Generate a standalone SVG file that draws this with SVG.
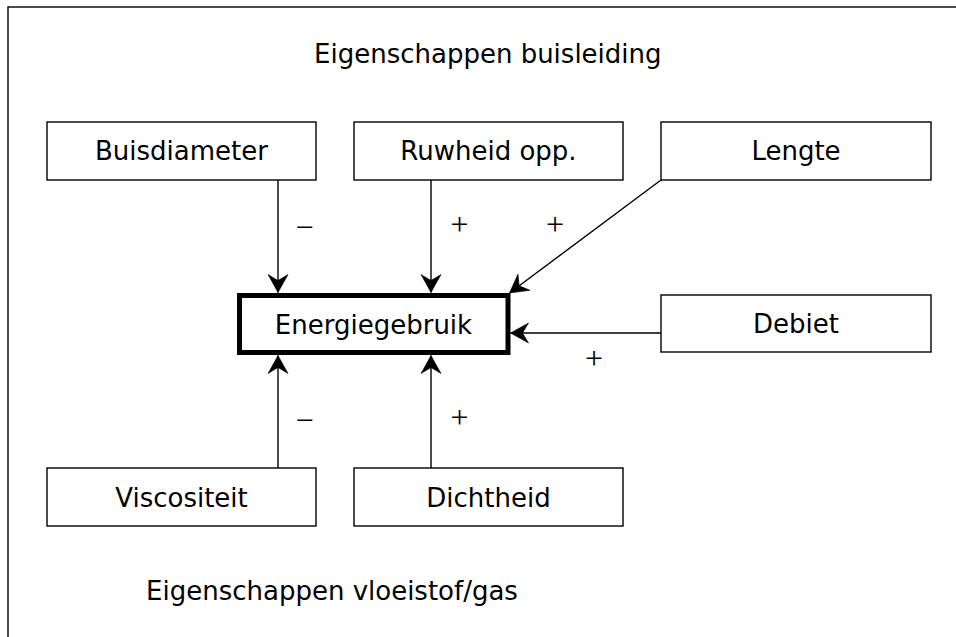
<svg xmlns="http://www.w3.org/2000/svg" width="956" height="637" viewBox="0 0 956 637">
<defs>
<marker id="arr" viewBox="-19 -11 20 22" refX="0" refY="0" markerWidth="20" markerHeight="22" markerUnits="userSpaceOnUse" orient="auto">
<path d="M0,0 L-18,-10 L-12,0 L-18,10 Z" fill="#000" stroke="#000" stroke-width="0.6" stroke-linejoin="miter"/>
</marker>
</defs>
<style>
.box{fill:#fff;stroke:#000;stroke-width:1.4}
.main{fill:#fff;stroke:#000;stroke-width:5}
.lbl{font-family:"DejaVu Sans","Verdana",sans-serif;font-size:26px;fill:#000}
.sign{font-family:"Liberation Serif","Times New Roman",serif;font-size:32px;fill:#000;text-anchor:middle}
.conn line{stroke:#000;stroke-width:1.4;marker-end:url(#arr)}
</style>
<rect width="956" height="637" fill="#fff"/>
<rect id="frame" x="8" y="7" width="1000" height="700" fill="none" stroke="#000" stroke-width="1.4"/>
<text class="lbl" x="314" y="63">Eigenschappen buisleiding</text>
<text class="lbl" x="146" y="600">Eigenschappen vloeistof/gas</text>
<g id="buisdiameter"><rect class="box" x="47" y="122" width="269" height="58"/><text class="lbl" x="181.5" y="160" text-anchor="middle">Buisdiameter</text></g>
<g id="ruwheid"><rect class="box" x="354" y="122" width="269" height="58"/><text class="lbl" x="488.5" y="160" text-anchor="middle">Ruwheid opp.</text></g>
<g id="lengte"><rect class="box" x="661" y="122" width="270" height="58"/><text class="lbl" x="796" y="160" text-anchor="middle">Lengte</text></g>
<g id="debiet"><rect class="box" x="661" y="295" width="270" height="57"/><text class="lbl" x="796" y="333" text-anchor="middle">Debiet</text></g>
<g id="energiegebruik"><rect class="main" x="239.5" y="295.5" width="268.5" height="57"/><text class="lbl" x="373.5" y="334" text-anchor="middle">Energiegebruik</text></g>
<g id="viscositeit"><rect class="box" x="47" y="468" width="269" height="58"/><text class="lbl" x="181.5" y="507" text-anchor="middle">Viscositeit</text></g>
<g id="dichtheid"><rect class="box" x="354" y="468" width="269" height="58"/><text class="lbl" x="488.5" y="507" text-anchor="middle">Dichtheid</text></g>
<g id="connectors" class="conn">
<line x1="278" y1="180" x2="278" y2="292.5"/>
<line x1="431" y1="180" x2="431" y2="292.5"/>
<line x1="661" y1="180" x2="509.5" y2="293"/>
<line x1="661" y1="333" x2="510.5" y2="333"/>
<line x1="278" y1="468" x2="278" y2="355.5"/>
<line x1="431" y1="468" x2="431" y2="355.5"/>
</g>
<g id="signs">
<text class="sign" x="304.5" y="237.5">−</text>
<text class="sign" x="459.5" y="235">+</text>
<text class="sign" x="555" y="235">+</text>
<text class="sign" x="594" y="369">+</text>
<text class="sign" x="304.5" y="430.5">−</text>
<text class="sign" x="459.5" y="427.5">+</text>
</g>
</svg>
